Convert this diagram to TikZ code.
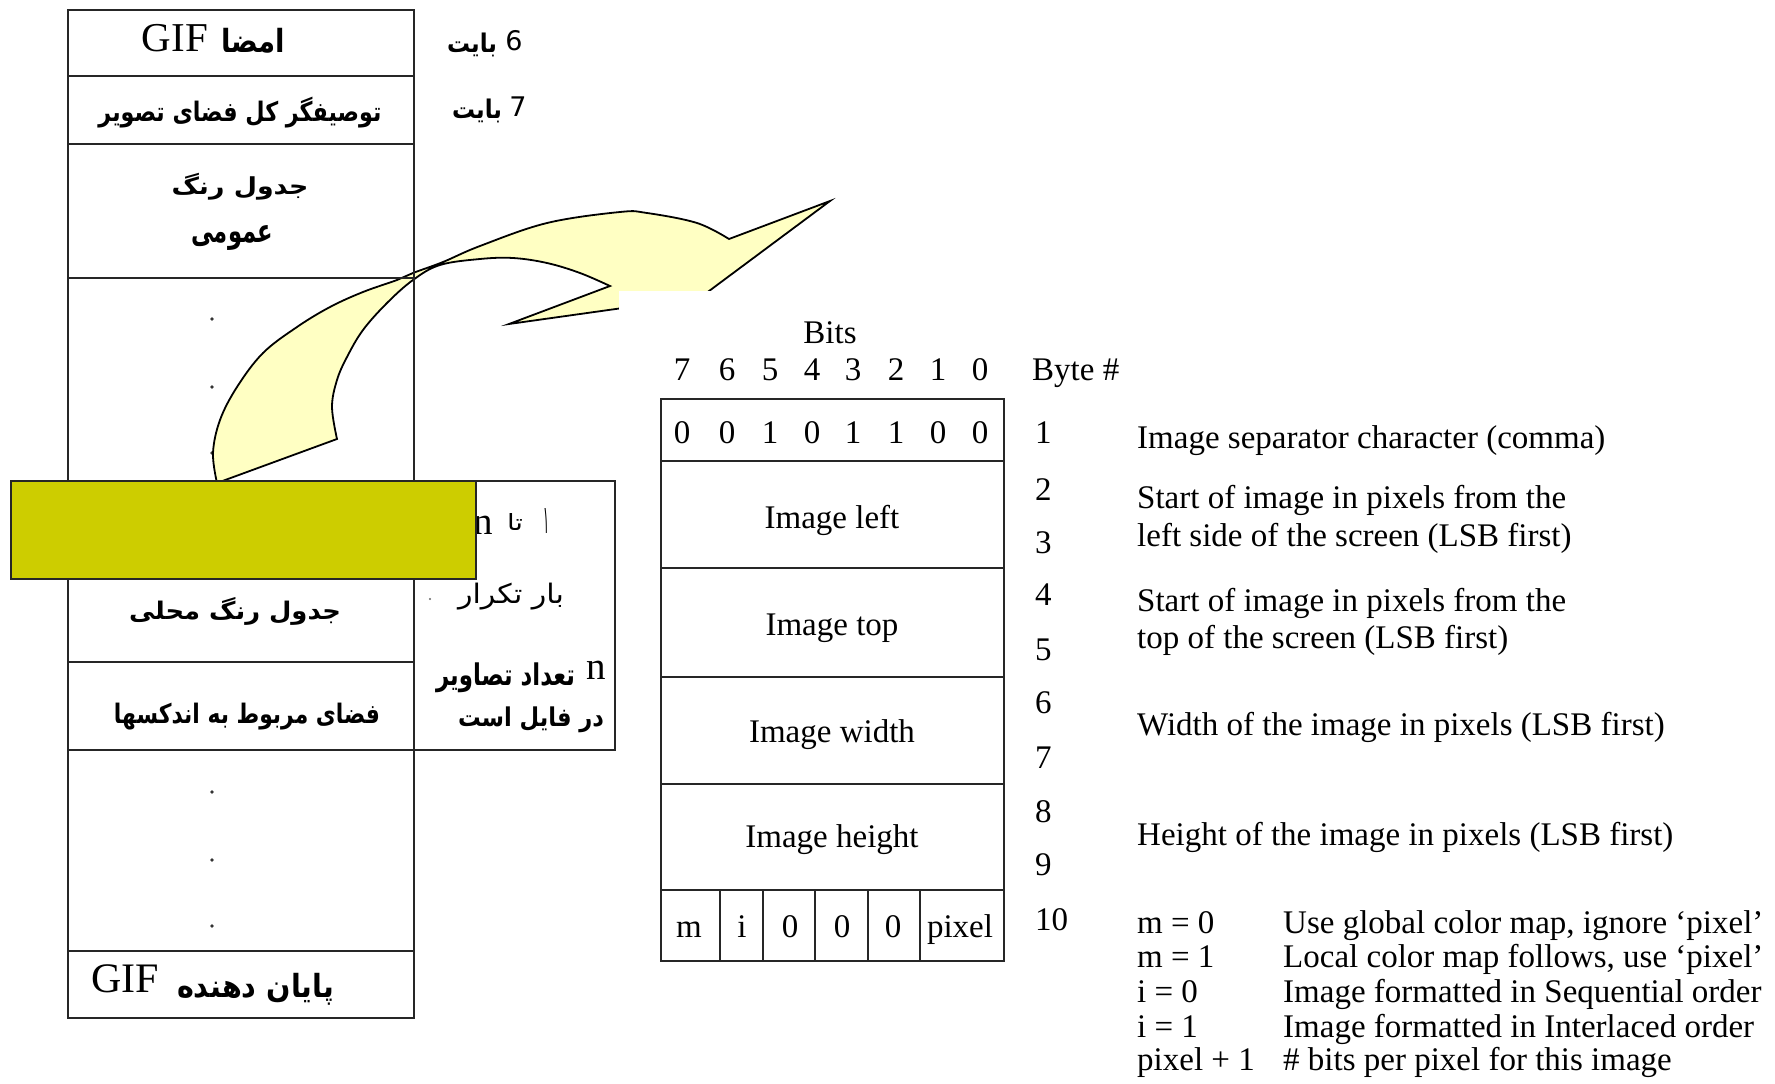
\documentclass[tikz,border=0pt]{standalone}
\usepackage{fontspec}
\setmainfont{Liberation Serif}
\newfontfamily\fa[Script=Arabic]{DejaVu Sans}
\newfontfamily\dvs{DejaVu Sans}
\TeXXeTstate=1
\newcommand\fitbox[3]{\resizebox*{#1pt}{#2pt}{#3}}
\definecolor{arrowfill}{RGB}{255,255,195}
\definecolor{yelbox}{RGB}{205,205,0}
\begin{document}
\begin{tikzpicture}[x=1pt,y=-1pt,
  cell/.style={draw=black!85, line width=2pt, inner sep=0pt, outer sep=0pt},
  en/.style={inner sep=0pt, font=\fontsize{33}{38}\selectfont},
  big/.style={inner sep=0pt, font=\fontsize{41}{46}\selectfont},
  arb/.style={inner sep=0pt, font=\fontsize{24}{28}\selectfont\fa\bfseries},
  arr/.style={inner sep=0pt, font=\fontsize{24}{28}\selectfont\fa},
  dig/.style={inner sep=0pt, font=\fontsize{27}{30}\selectfont\dvs}]
\useasboundingbox (0,0) rectangle (1775,1084);
\fill[white] (0,0) rectangle (1775,1084);

% dots (behind the arrow)
\foreach \yy in {319,387,453,792,860,926} \fill[black!80] (212,\yy) circle (1.8);
\fill[black!60] (430,599) circle (1.2);

% curved arrow
\filldraw[fill=arrowfill, draw=black, line width=1.8pt, line join=miter]
  (217,483) -- plot[smooth, tension=0.6] coordinates {(217,483) (213,453) (220,420) (237,387) (263,353) (297,327) (330,307) (363,292) (397,280) (413,273) (443,262) (480,246) (547,223) (620,212) (647,213) (697,223) (729,239)}
  -- (830,201) -- (701,297) -- (509,324) -- (610,286)
  -- plot[smooth, tension=0.6] coordinates {(610,286) (580,273) (547,263) (513,258) (480,259) (440,265) (413,280) (387,303) (363,330) (347,357) (337,380) (332,407) (337,439)}
  -- cycle;
% white text-box background hiding part of the arrow head
\fill[white] (619,291) rectangle (770,316);

% left column
\node[cell, minimum width=346pt, minimum height=66pt] (r1) at (241,43) {};
\node[cell, minimum width=346pt, minimum height=68pt] (r2) at (241,110) {};
\node[cell, minimum width=346pt, minimum height=134pt] (r3) at (241,211) {};
\node[cell, minimum width=346pt, minimum height=203pt] (r4) at (241,379.5) {};
\node[cell, minimum width=346pt, minimum height=181pt] (r5) at (241,571.5) {};
\node[cell, minimum width=346pt, minimum height=88pt] (r6) at (241,706) {};
\node[cell, minimum width=346pt, minimum height=201pt] (r7) at (241,850.5) {};
\node[cell, minimum width=346pt, minimum height=67pt] (r8) at (241,984.5) {};
\node[cell, minimum width=201pt, minimum height=269pt] (rep) at (514.5,615.5) {};

% left column texts
\node[big] (gif1) at (175,38.5) {GIF};
\node[arb] (emza) at (253,40.5) {\fitbox{64}{25}{\beginR امضا\endR}};
\node[arb] (desc) at (240,112.5) {\fitbox{283}{31}{\beginR توصیفگر کل فضای تصویر\endR}};
\node[arb] (gct1) at (240,186.5) {\fitbox{137}{27}{\beginR جدول رنگ\endR}};
\node[arb] (gct2) at (232,237.5) {\fitbox{82}{25}{\beginR عمومی\endR}};
\node[arb] (lct) at (235,611) {\fitbox{212}{28}{\beginR جدول رنگ محلی\endR}};
\node[arb] (idx) at (247,716.5) {\fitbox{266}{27}{\beginR فضای مربوط به اندکسها\endR}};
\node[big, font=\fontsize{42}{46}\selectfont] (gif2) at (125,979) {GIF};
\node[arb] (term) at (255.5,989) {\fitbox{157}{32}{\beginR پایان دهنده\endR}};

% byte labels
\node[dig] (six) at (514,41) {6};
\node[arb] (bay6) at (472,45) {\fitbox{50}{24}{\beginR بایت\endR}};
\node[dig] (seven) at (518,107) {7};
\node[arb] (bay7) at (477,111) {\fitbox{50}{24}{\beginR بایت\endR}};

% repetition box texts
\node[big, font=\fontsize{39}{44}\selectfont] (n1) at (483,525) {n};
\node[arr] (ta) at (515,522) {\fitbox{16}{17}{\beginR تا\endR}};
\node[arr] (one) at (546,520.5) {\fitbox{6}{25}{\beginR ۱\endR}};
\node[arr] (rep1) at (511,596.5) {\fitbox{106}{27}{\beginR بار تکرار\endR}};
\node[big, font=\fontsize{39}{44}\selectfont] (n2) at (596,670) {n};
\node[arb] (cnt) at (505.5,678) {\fitbox{139}{30}{\beginR تعداد تصاویر\endR}};
\node[arb] (infile) at (531,720) {\fitbox{146}{26}{\beginR در فایل است\endR}};

% yellow patterned bar
\node[draw=black!85, line width=2pt, fill=yelbox, minimum width=465pt, minimum height=98pt, inner sep=0pt] (ybar) at (243.5,530) {};

% bits table
\node[cell, minimum width=343pt, minimum height=62pt] (t1) at (832.5,430) {};
\node[cell, minimum width=343pt, minimum height=107pt] (t2) at (832.5,514.5) {};
\node[cell, minimum width=343pt, minimum height=109pt] (t3) at (832.5,622.5) {};
\node[cell, minimum width=343pt, minimum height=107pt] (t4) at (832.5,730.5) {};
\node[cell, minimum width=343pt, minimum height=106pt] (t5) at (832.5,837) {};
\node[cell, minimum width=59pt, minimum height=71pt] (c1) at (690.5,925.5) {};
\node[cell, minimum width=43pt, minimum height=71pt] (c2) at (741.5,925.5) {};
\node[cell, minimum width=52pt, minimum height=71pt] (c3) at (789,925.5) {};
\node[cell, minimum width=53pt, minimum height=71pt] (c4) at (841.5,925.5) {};
\node[cell, minimum width=52pt, minimum height=71pt] (c5) at (894,925.5) {};
\node[cell, minimum width=84pt, minimum height=71pt] (c6) at (962,925.5) {};

\node[en, anchor=base] (bits) at (830,343) {Bits};
\foreach \b/\xx [count=\i] in {7/682,6/727,5/770,4/812,3/853,2/896,1/938,0/980}
  \node[en, anchor=base] (h\i) at (\xx,380) {\b};
\foreach \b/\xx [count=\i] in {0/682,0/727,1/770,0/812,1/853,1/896,0/938,0/980}
  \node[en, anchor=base] (v\i) at (\xx,443) {\b};
\node[en, anchor=base west] (byte) at (1032,380) {Byte \#};
\node[en, anchor=base] (il) at (832,528) {Image left};
\node[en, anchor=base] (itp) at (832,635) {Image top};
\node[en, anchor=base] (iw) at (832,742) {Image width};
\node[en, anchor=base] (ih) at (832,847) {Image height};
\node[en, anchor=base] (m) at (689,937) {m};
\node[en, anchor=base] (i) at (742,937) {i};
\node[en, anchor=base] (z1) at (790,937) {0};
\node[en, anchor=base] (z2) at (842,937) {0};
\node[en, anchor=base] (z3) at (893,937) {0};
\node[en, anchor=base] (px) at (960,937) {pixel};

\foreach \n/\yy in {1/443,2/500,3/553,4/605,5/660,6/713,7/768,8/822,9/875,10/930}
  \node[en, anchor=base west] (bn\n) at (1035,\yy) {\n};

\node[en, anchor=base west] (d1) at (1137,448) {Image separator character (comma)};
\node[en, anchor=base west] (d2) at (1137,508) {Start of image in pixels from the};
\node[en, anchor=base west] (d3) at (1137,546) {left side of the screen (LSB first)};
\node[en, anchor=base west] (d4) at (1137,611) {Start of image in pixels from the};
\node[en, anchor=base west] (d5) at (1137,648) {top of the screen (LSB first)};
\node[en, anchor=base west] (d6) at (1137,735) {Width of the image in pixels (LSB first)};
\node[en, anchor=base west] (d7) at (1137,845) {Height of the image in pixels (LSB first)};

\foreach \k/\a/\b/\yy in {1/{m = 0}/{Use global color map, ignore ‘pixel’}/933,
  2/{m = 1}/{Local color map follows, use ‘pixel’}/967,
  3/{i = 0}/{Image formatted in Sequential order}/1002,
  4/{i = 1}/{Image formatted in Interlaced order}/1037,
  5/{pixel + 1}/{\# bits per pixel for this image}/1070}{
  \node[en, anchor=base west] (lk\k) at (1137,\yy) {\a};
  \node[en, anchor=base west] (lv\k) at (1283,\yy) {\b};
}
\end{tikzpicture}
\end{document}
